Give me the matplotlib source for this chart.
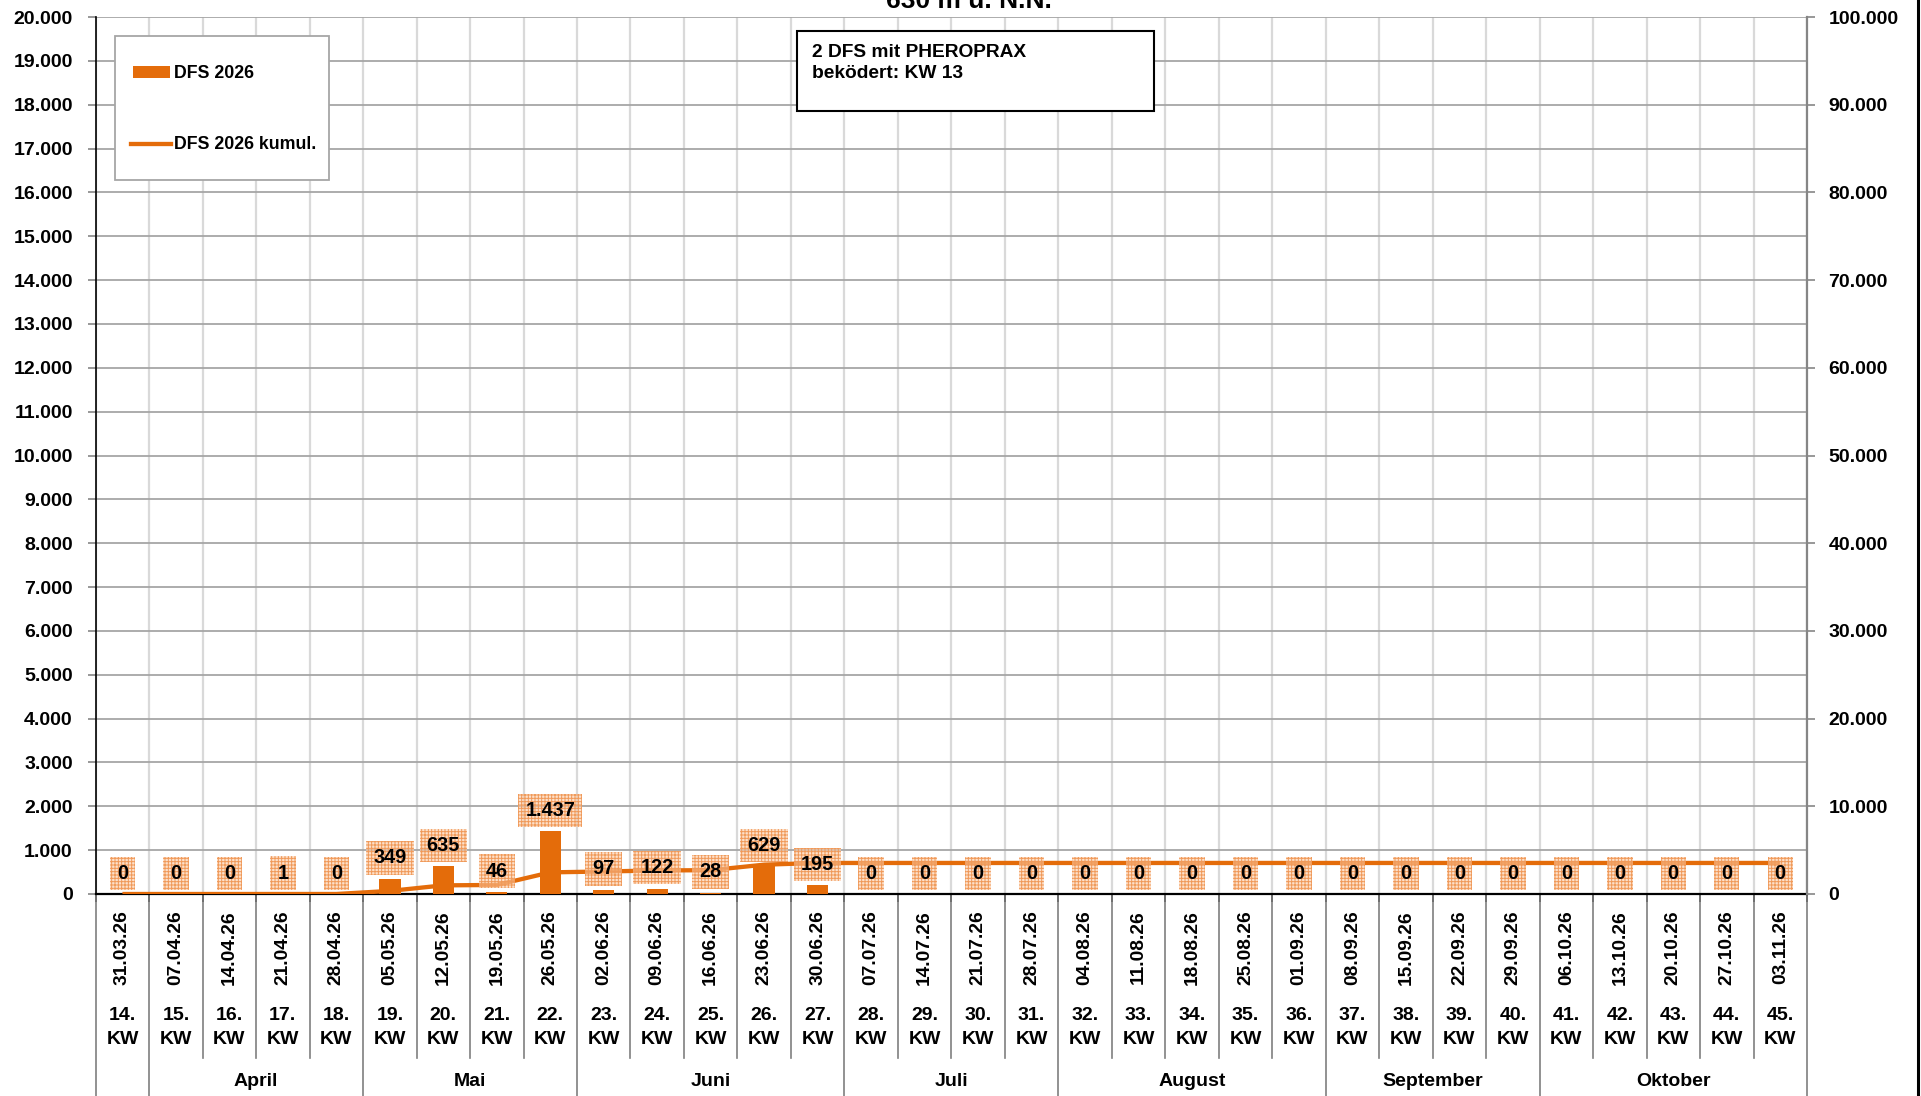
import numpy as np
import matplotlib
matplotlib.use("Agg")
import matplotlib.pyplot as plt
from matplotlib.patches import Rectangle
from matplotlib.lines import Line2D

# --- data -------------------------------------------------------------
dates = ["31.03.26", "07.04.26", "14.04.26", "21.04.26", "28.04.26",
         "05.05.26", "12.05.26", "19.05.26", "26.05.26",
         "02.06.26", "09.06.26", "16.06.26", "23.06.26", "30.06.26",
         "07.07.26", "14.07.26", "21.07.26", "28.07.26",
         "04.08.26", "11.08.26", "18.08.26", "25.08.26", "01.09.26",
         "08.09.26", "15.09.26", "22.09.26", "29.09.26",
         "06.10.26", "13.10.26", "20.10.26", "27.10.26", "03.11.26"]
kw = list(range(14, 46))
dfs_2026 = [0, 0, 0, 1, 0, 349, 635, 46, 1437, 97, 122, 28, 629, 195,
            0, 0, 0, 0, 0, 0, 0, 0, 0, 0, 0, 0, 0, 0, 0, 0, 0, 0]
dfs_2026_kumul = [0, 0, 0, 1, 1, 350, 985, 1031, 2468, 2565, 2687, 2715, 3344, 3539,
                  3539, 3539, 3539, 3539, 3539, 3539, 3539, 3539, 3539, 3539,
                  3539, 3539, 3539, 3539, 3539, 3539, 3539, 3539]
month_names = ["", "April", "Mai", "Juni", "Juli", "August", "September", "Oktober"]
month_weeks = [1, 4, 4, 5, 4, 5, 4, 5]

title = "630 m ü. N.N."
note_lines = ["2 DFS mit PHEROPRAX", "beködert: KW 13"]

# --- style ------------------------------------------------------------
ORANGE = "#E46C0A"
GRID = "#a6a6a6"
plt.rcParams["font.family"] = ["Liberation Sans", "DejaVu Sans"]
plt.rcParams["font.weight"] = "bold"
plt.rcParams["hatch.linewidth"] = 0.7

W, H = 1921, 1096


def fpos(x, y):
    # figure pixel (from top-left) -> figure fraction
    return x / W, 1 - y / H


def thousands(v):
    return f"{v:,}".replace(",", ".")


fig = plt.figure(figsize=(W / 100, H / 100), dpi=100)
ax_left, ax_right, ax_top, ax_bot = 95.7, 1807, 17, 894
ax = fig.add_axes([ax_left / W, 1 - ax_bot / H, (ax_right - ax_left) / W, (ax_bot - ax_top) / H])
ax2 = ax.twinx()

x = np.arange(len(dates))
ax.bar(x, dfs_2026, width=0.4, color=ORANGE, zorder=3)
ax2.plot(x, dfs_2026_kumul, color=ORANGE, lw=3.1, solid_capstyle="butt", zorder=2)

ax.set_xlim(-0.5, len(dates) - 0.5)
ax.set_ylim(0, 20000)
ax.set_yticks(range(0, 20001, 1000))
ax.set_yticklabels([thousands(v) for v in range(0, 20001, 1000)])
ax2.set_ylim(0, 100000)
ax2.set_yticks(range(0, 100001, 10000))
ax2.set_yticklabels([thousands(v) for v in range(0, 100001, 10000)])

ax.set_axisbelow(True)
ax.yaxis.grid(True, color=GRID, lw=1.3)
ax.set_xticks(np.arange(-0.5, len(dates), 1), minor=True)
ax.grid(which="minor", axis="x", color="#d9d9d9", lw=1.6)

ax.set_xticks(x)
ax.set_xticklabels(dates, rotation=90, fontsize=13.8)
ax.tick_params(axis="x", which="major", length=0, pad=11.5)
ax.tick_params(axis="x", which="minor", length=6, color="black", width=1.2)
ax.tick_params(axis="y", length=6, color="#868686", width=1.2, pad=10.5, labelsize=14)
ax2.tick_params(axis="y", length=6, color="#868686", width=1.2, pad=9.5, labelsize=14)

for s in ["top", "right"]:
    ax.spines[s].set_visible(False)
for s in ["top", "left", "bottom"]:
    ax2.spines[s].set_visible(False)
ax.spines["left"].set_color("black")
ax.spines["left"].set_linewidth(1.2)
ax.spines["bottom"].set_color("black")
ax.spines["bottom"].set_linewidth(1.6)
ax2.spines["right"].set_color("#868686")
ax2.spines["right"].set_linewidth(1.6)

# data labels
for i, v in enumerate(dfs_2026):
    ax2.annotate(thousands(v), xy=(i, v), xycoords=ax.transData,
                 xytext=(0, 15), textcoords="offset points",
                 ha="center", va="center", fontsize=14.3, zorder=6,
                 bbox=dict(boxstyle="square,pad=0.36", fc=(0.99, 0.8, 0.66, 0.6),
                           ec="#f09a5a", lw=0, hatch="+++++"))

# category axis below plot: separators, KW and month labels
trans = ax.get_xaxis_transform()
ph = ax_bot - ax_top


def ay(ypix):
    return -(ypix - ax_bot) / ph


month_edges = np.concatenate([[0], np.cumsum(month_weeks)]) - 0.5
for b in np.arange(-0.5, len(dates), 1):
    end = 1096 if np.any(np.isclose(month_edges, b)) else 1053
    ax.plot([b, b], [0, ay(end + 5)], transform=trans, color="#7f7f7f", lw=1.2, clip_on=False)

for i, k in enumerate(kw):
    ax.text(i, ay(1015), f"{k}.", transform=trans, ha="center", va="center", fontsize=14)
    ax.text(i, ay(1039), "KW", transform=trans, ha="center", va="center", fontsize=14)

for name, a, b in zip(month_names, month_edges[:-1], month_edges[1:]):
    if name:
        ax.text((a + b) / 2, ay(1082), name, transform=trans, ha="center", va="center", fontsize=14)

# title (cut off at the top, as in the source)
fig.text(*fpos(969, 8), title, ha="center", va="baseline", fontsize=19)

# note box
fig.add_artist(Rectangle(fpos(797, 111), (1154 - 797) / W, (111 - 31) / H,
                         transform=fig.transFigure, fc="white", ec="black", lw=1.5, zorder=5))
for j, line in enumerate(note_lines):
    fig.text(*fpos(812, 57 + 21 * j), line, ha="left", va="baseline", fontsize=13.8, zorder=6)

# legend (drawn by hand to match the box layout)
fig.add_artist(Rectangle(fpos(115, 180), (329 - 115) / W, (180 - 36) / H,
                         transform=fig.transFigure, fc="white", ec="#a6a6a6", lw=1.3, zorder=5))
fig.add_artist(Rectangle(fpos(133, 78), 37 / W, 12 / H, transform=fig.transFigure,
                         fc=ORANGE, ec="none", zorder=6))
fig.add_artist(Line2D([131 / W, 171 / W], [1 - 144 / H] * 2, transform=fig.transFigure,
                      color=ORANGE, lw=3.1, zorder=6))
fig.text(*fpos(174, 73), "DFS 2026", ha="left", va="center", fontsize=12.8, zorder=6)
fig.text(*fpos(174, 144), "DFS 2026 kumul.", ha="left", va="center", fontsize=12.8, zorder=6)

# right border of the sheet
fig.add_artist(Line2D([1917.5 / W] * 2, [0, 1], transform=fig.transFigure, color="black", lw=2.2))

fig.savefig("out.png", dpi=100)
